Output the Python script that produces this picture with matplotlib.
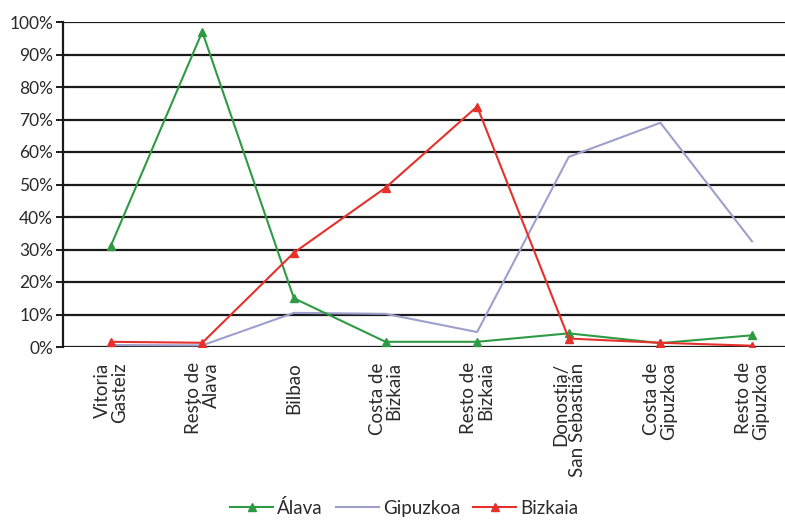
import matplotlib
matplotlib.use("Agg")
import matplotlib.pyplot as plt
from matplotlib.ticker import FuncFormatter

categories = ["Vitoria\nGasteiz", "Resto de\nÁlava", "Bilbao", "Costa de\nBizkaia",
              "Resto de\nBizkaia", "Donostia/\nSan Sebastián", "Costa de\nGipuzkoa",
              "Resto de\nGipuzkoa"]
alava = [31, 97, 15, 1.6, 1.6, 4.2, 1.2, 3.6]
gipuzkoa = [0.6, 0.5, 10.5, 10.2, 4.6, 58.5, 69, 32.5]
bizkaia = [1.6, 1.3, 29, 49, 74, 2.6, 1.3, 0.4]
yticks = [0, 10, 20, 30, 40, 50, 60, 70, 80, 90, 100]

plt.rcParams['font.family'] = ['Lato', 'DejaVu Sans']

fig = plt.figure(figsize=(7.85, 5.2), dpi=100)
ax = fig.add_axes([63/785, (520-347)/520, 1 - 63/785, (347-22)/520])

x = list(range(len(categories)))
green = "#2f9a44"
red = "#e5312b"
lav = "#9e9fcc"

ax.plot(x, alava, color=green, lw=1.5, marker='^', ms=6, label="Álava", zorder=4)
ax.plot(x, gipuzkoa, color=lav, lw=1.5, label="Gipuzkoa", zorder=3)
ax.plot(x, bizkaia, color=red, lw=1.5, marker='^', ms=6, label="Bizkaia", zorder=5)

ax.set_xlim(-0.52, 7.36)
ax.set_ylim(0, 100)
ax.set_yticks(yticks)
ax.yaxis.set_major_formatter(FuncFormatter(lambda v, p: f"{int(v)}%"))
ax.grid(axis='y', color='#1a1a1a', lw=1.6, zorder=1)
ax.set_axisbelow(True)
for s in ['top', 'right', 'bottom']:
    ax.spines[s].set_visible(False)
ax.spines['left'].set_color('#1a1a1a')
ax.spines['left'].set_linewidth(1.6)
ax.spines['left'].set_zorder(2)
ax.tick_params(axis='y', length=5, width=1.4, color='#1a1a1a', labelsize=12.5,
               labelcolor='#2a2a2a', pad=2)
ax.tick_params(axis='x', length=0, pad=11)
ax.set_xticks(x)
ax.set_xticklabels(categories, rotation=90, fontsize=13.5, color='#2a2a2a',
                   va='top', ha='center', multialignment='right', linespacing=1.0)

leg = fig.legend(loc='center', bbox_to_anchor=(0.515, 0.024), ncol=3, frameon=False,
                 fontsize=13.5, handlelength=2.3, columnspacing=0.7, handletextpad=0.2)
for t in leg.get_texts():
    t.set_color('#2a2a2a')

fig.savefig("out.png", dpi=100)
